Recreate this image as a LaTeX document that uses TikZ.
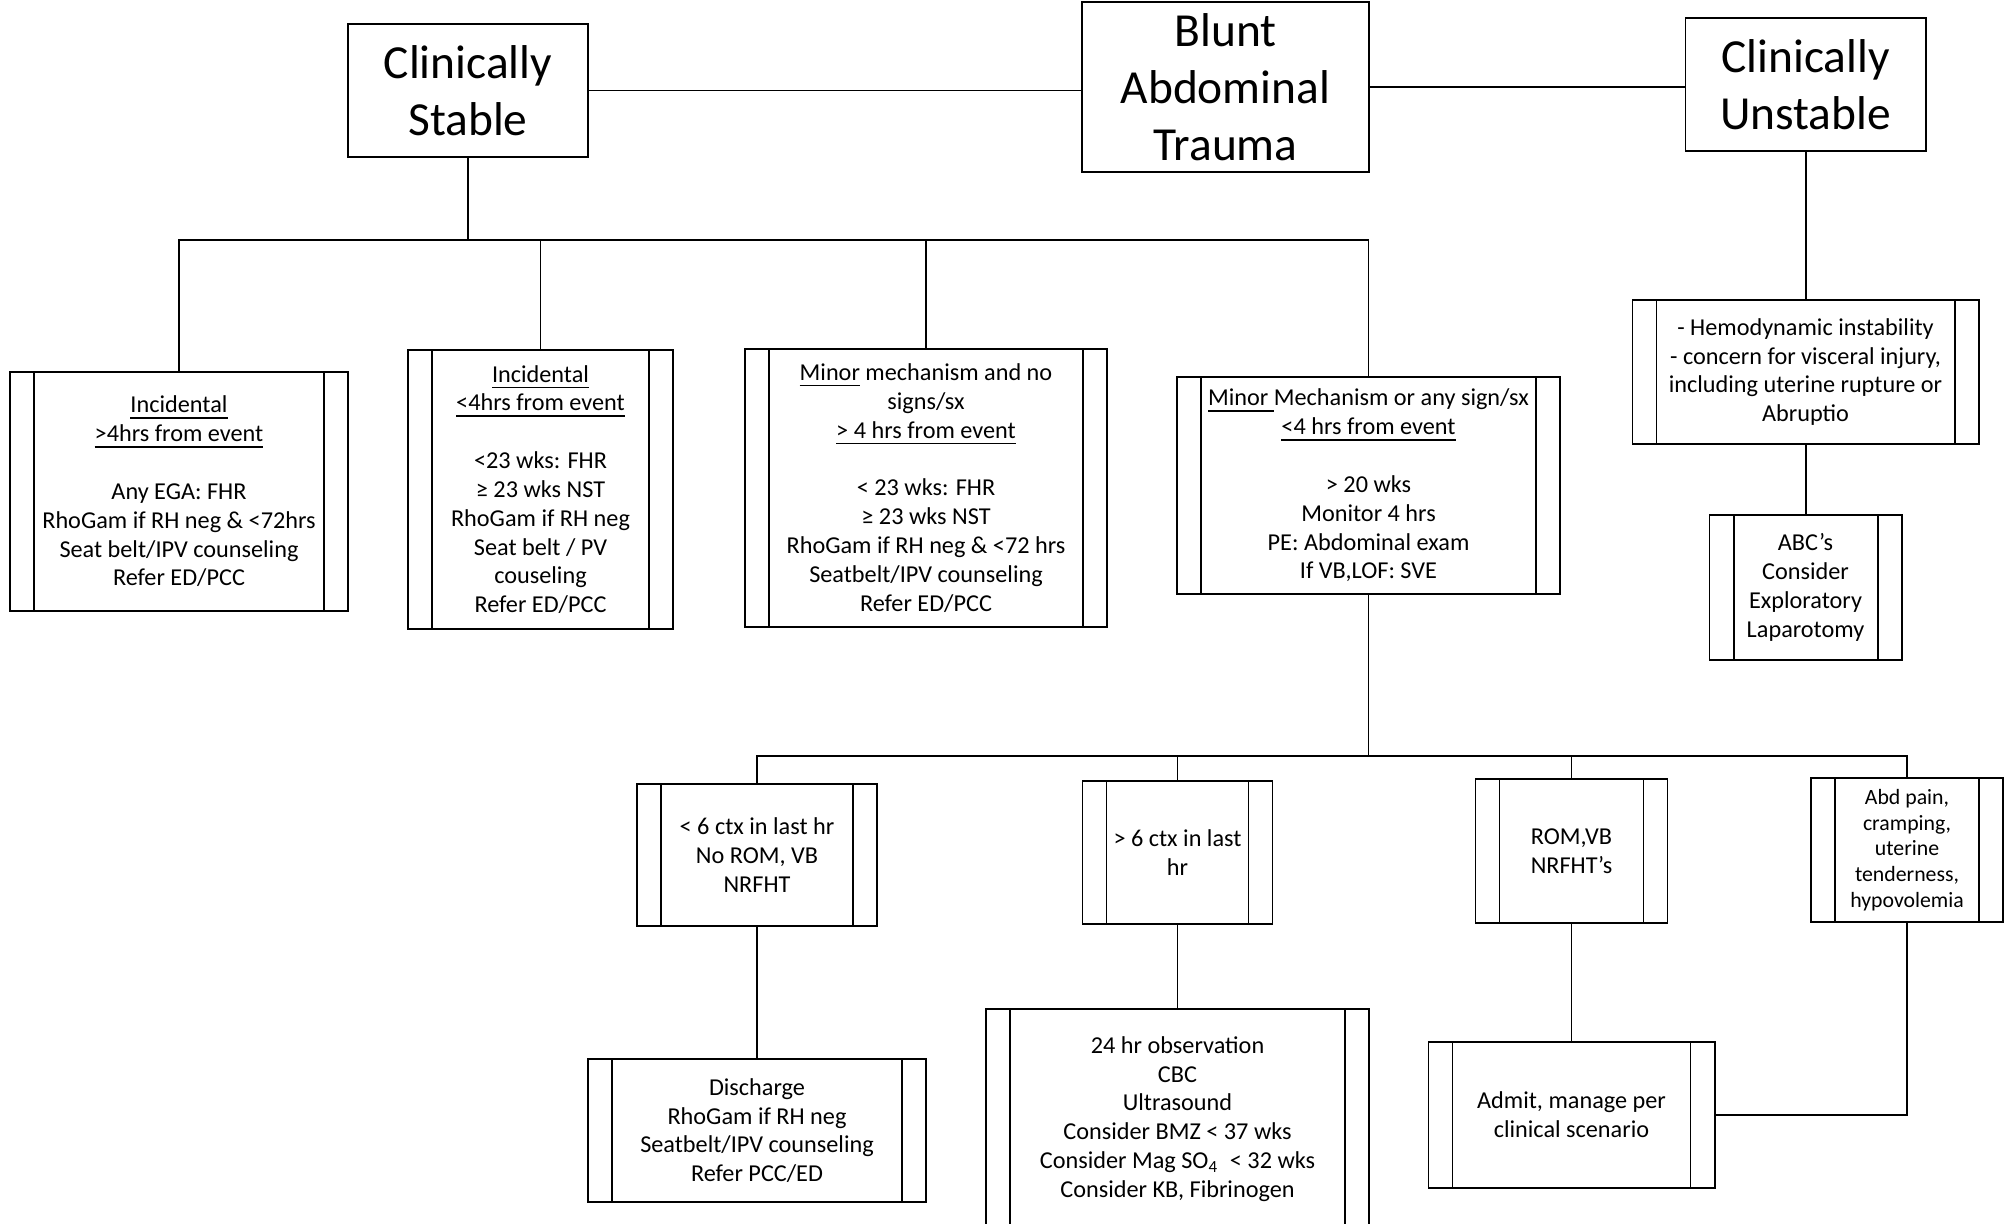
\documentclass[tikz,border=0pt]{standalone}
\usepackage{fontspec}
\setmainfont{Carlito}
\usepackage{tikz}

\begin{document}
\begin{tikzpicture}[
    line width=.55pt,
    title/.style={draw, align=center, font=\fontsize{13.5}{16.2}\selectfont},
    proc/.style={draw, align=center, font=\fontsize{6.9}{8.2}\selectfont,
      path picture={
        \draw ([xshift=.24cm]path picture bounding box.north west) -- ([xshift=.24cm]path picture bounding box.south west);
        \draw ([xshift=-.24cm]path picture bounding box.north east) -- ([xshift=-.24cm]path picture bounding box.south east);}},
    small/.style={font=\fontsize{6.2}{7.3}\selectfont}
  ]
    \useasboundingbox (0,0) rectangle (20.13,-12.23);
    \clip (0,0) rectangle (20.13,-12.23);
    % top row
    \node[title, minimum width=2.87cm, minimum height=1.58cm] (bat) at (12.255,-.87) {Blunt\\Abdominal\\Trauma};
    \node[title, minimum width=2.40cm, minimum height=1.33cm] (stable) at (4.68,-.905) {Clinically\\Stable};
    \node[title, minimum width=2.40cm, minimum height=1.33cm] (unstable) at (18.055,-.845) {Clinically\\Unstable};
    % stable branch
    \node[proc, minimum width=3.38cm, minimum height=2.39cm] (inclate) at (1.79,-4.915)
      {\underline{Incidental}\\\underline{>4hrs from event}\\[8.2pt]Any EGA: FHR\\RhoGam if RH neg \& <72hrs\\Seat belt/IPV counseling\\Refer ED/PCC};
    \node[proc, minimum width=2.65cm, minimum height=2.79cm] (incearly) at (5.405,-4.895)
      {\underline{Incidental}\\\underline{<4hrs from event}\\[8.2pt]<23 wks: FHR\\≥ 23 wks NST\\RhoGam if RH neg\\Seat belt / PV\\couseling\\Refer ED/PCC};
    \node[proc, minimum width=3.62cm, minimum height=2.78cm] (minorlate) at (9.26,-4.88)
      {\underline{Minor} mechanism and no\\signs/sx\\\underline{> 4 hrs from event}\\[8.2pt]< 23 wks: FHR\\≥ 23 wks NST\\RhoGam if RH neg \& <72 hrs\\Seatbelt/IPV counseling\\Refer ED/PCC};
    \node[proc, minimum width=3.83cm, minimum height=2.17cm] (minorearly) at (13.685,-4.855)
      {\underline{Minor }Mechanism or any sign/sx\\\underline{<4 hrs from event}\\[8.2pt]> 20 wks\\Monitor 4 hrs\\PE: Abdominal exam\\If VB,LOF: SVE};
    % unstable branch
    \node[proc, minimum width=3.46cm, minimum height=1.44cm] (hemo) at (18.055,-3.72)
      {- Hemodynamic instability\\- concern for visceral injury,\\including uterine rupture or\\Abruptio};
    \node[proc, minimum width=1.92cm, minimum height=1.45cm] (abc) at (18.055,-5.875)
      {ABC’s\\Consider\\Exploratory\\Laparotomy};
    % monitoring outcomes
    \node[proc, minimum width=2.40cm, minimum height=1.42cm] (fewctx) at (7.57,-8.55)
      {< 6 ctx in last hr\\No ROM, VB\\NRFHT};
    \node[proc, minimum width=1.90cm, minimum height=1.43cm] (manyctx) at (11.775,-8.525)
      {> 6 ctx in last\\hr};
    \node[proc, minimum width=1.92cm, minimum height=1.44cm] (romvb) at (15.715,-8.51)
      {ROM,VB\\NRFHT’s};
    \node[proc, small, minimum width=1.92cm, minimum height=1.44cm] (abdpain) at (19.07,-8.50)
      {Abd pain,\\cramping,\\uterine\\tenderness,\\hypovolemia};
    \node[proc, minimum width=3.38cm, minimum height=1.43cm] (discharge) at (7.57,-11.305)
      {Discharge\\RhoGam if RH neg\\Seatbelt/IPV counseling\\Refer PCC/ED};
    \node[proc, minimum width=3.83cm, minimum height=2.20cm] (observe) at (11.775,-11.19)
      {24 hr observation\\CBC\\Ultrasound\\Consider BMZ < 37 wks\\Consider Mag SO\textsubscript{4} \ < 32 wks\\Consider KB, Fibrinogen};
    \node[proc, minimum width=2.86cm, minimum height=1.46cm] (admit) at (15.715,-11.15)
      {Admit, manage per\\clinical scenario};
    % connectors
    \coordinate (bus) at (4.68,-2.40);
    \coordinate (bus2) at (13.685,-7.56);
    \draw (stable.east) -- (stable.east -| bat.west);
    \draw (bat.east) -- (bat.east -| unstable.west);
    \draw (stable) -- (bus);
    \draw (inclate.north) |- (minorearly.north |- bus) -- (minorearly.north);
    \draw (incearly.north) -- (incearly.north |- bus);
    \draw (minorlate.north) -- (minorlate.north |- bus);
    \draw (unstable) -- (hemo);
    \draw (hemo) -- (abc);
    \draw (minorearly) -- (bus2);
    \draw (fewctx.north) |- (abdpain.north |- bus2) -- (abdpain.north);
    \draw (manyctx.north) -- (manyctx.north |- bus2);
    \draw (romvb.north) -- (romvb.north |- bus2);
    \draw (fewctx) -- (discharge);
    \draw (manyctx) -- (observe);
    \draw (romvb) -- (admit);
    \draw (abdpain.south) |- (admit.east);
  \end{tikzpicture}
\end{document}
